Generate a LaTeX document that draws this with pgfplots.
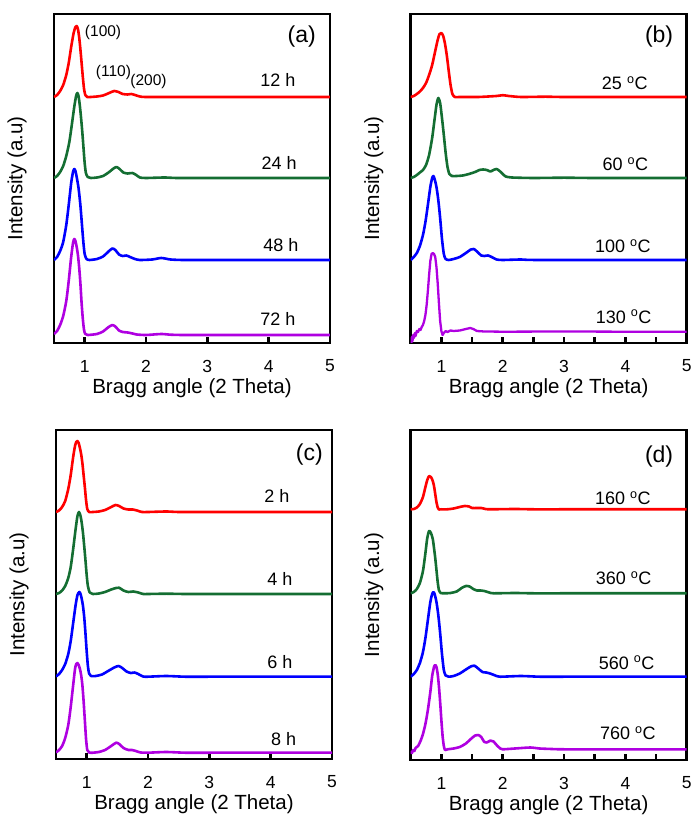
\documentclass[border=0pt]{standalone}
\usepackage{pgfplots}
\pgfplotsset{compat=1.18}
\usepackage{fontspec}
\setmainfont{Liberation Sans}
\definecolor{cred}{RGB}{255,0,0}
\definecolor{cgreen}{RGB}{20,110,50}
\definecolor{cblue}{RGB}{0,0,255}
\definecolor{cpurple}{RGB}{175,0,225}
\pgfplotsset{
  panel/.style={scale only axis, width=276pt, height=329pt,
    xmin=0.5, xmax=5, ymin=0, ymax=329, ytick=\empty,
    xtick={1,2,3,4,5}, xticklabels={1,2,3,4,5},
    tick align=inside, xtick pos=bottom,
    major tick length=6pt, minor tick length=6pt,
    tick style={black, line width=2.5pt},
    axis line style={line width=2.5pt},
    xticklabel style={font=\fontsize{17.5}{20}\selectfont, anchor=center, yshift=-23pt},
    xlabel={Bragg angle (2 Theta)}, ylabel={Intensity (a.u)},
    every axis x label/.style={at={(axis description cs:0.5,-0.137)},anchor=center,font=\fontsize{20.5}{24}\selectfont},
    every axis y label/.style={at={(axis description cs:-0.134,0.5)},rotate=90,anchor=center,font=\fontsize{20.5}{24}\selectfont},
    anchor=south west},
  crv/.style={no marks, line width=2.6pt, line join=round, smooth, tension=0.4},
}
\tikzset{
  lab/.style={font=\fontsize{18}{20}\selectfont, anchor=center},
  plab/.style={font=\fontsize{23}{26}\selectfont, anchor=center},
  ann/.style={font=\fontsize{15.5}{18}\selectfont, anchor=center},
}
\begin{document}
\begin{tikzpicture}
\useasboundingbox (0,0) rectangle (700pt,825pt);
% ---------------- (a)
\begin{axis}[panel, at={(54pt,482pt)}]
\addplot[crv, cred] coordinates {(0.50,246)(0.55,248)(0.60,252)(0.65,258)(0.70,268)(0.74,280)(0.78,296)(0.82,310)(0.85,316)(0.87,317)(0.89,314)(0.91,306)(0.93,294)(0.95,280)(0.97,266)(0.99,254)(1.01,248)(1.04,246)(1.10,246)(1.2,246.5)(1.3,247.5)(1.4,250)(1.48,252)(1.55,251)(1.62,249)(1.7,248.5)(1.76,249)(1.82,248)(1.9,246.5)(2.0,246)(2.5,246)(3,246)(3.5,246)(4,246)(4.5,246)(5,246)};
\addplot[crv, cgreen] coordinates {(0.50,165)(0.55,167)(0.60,171)(0.65,177)(0.70,187)(0.75,201)(0.79,218)(0.83,236)(0.86,247)(0.88,250)(0.90,247)(0.92,238)(0.94,226)(0.96,212)(0.98,196)(1.00,180)(1.02,170)(1.05,166)(1.1,165)(1.2,165.5)(1.3,167)(1.4,171)(1.47,174.5)(1.52,176)(1.57,174)(1.63,170.5)(1.7,169.5)(1.78,170)(1.84,168)(1.9,165.5)(2.0,165)(2.3,165.5)(2.5,165)(3,165)(4,165)(5,165)};
\addplot[crv, cblue] coordinates {(0.50,83)(0.55,86)(0.60,92)(0.65,101)(0.70,118)(0.74,138)(0.78,160)(0.81,171)(0.83,174)(0.85,172)(0.87,166)(0.90,155)(0.93,138)(0.96,115)(0.98,100)(1.00,89)(1.03,84)(1.08,83)(1.2,84)(1.3,86.5)(1.38,91)(1.45,94.5)(1.5,93)(1.56,88.5)(1.62,87)(1.68,87.5)(1.74,86)(1.82,84)(1.9,83)(2.1,83.5)(2.25,85)(2.4,83.5)(2.6,83)(3,83)(4,83)(5,83)};
\addplot[crv, cpurple] coordinates {(0.50,9)(0.55,12)(0.60,18)(0.65,27)(0.70,42)(0.74,62)(0.78,86)(0.81,100)(0.83,104)(0.85,102)(0.87,96)(0.89,88)(0.91,76)(0.93,60)(0.95,40)(0.97,24)(0.99,13)(1.01,9)(1.05,8)(1.2,9)(1.3,11.5)(1.38,15.5)(1.45,18)(1.5,16.5)(1.56,12.5)(1.62,11)(1.7,10.5)(1.78,9.5)(1.85,8.5)(2.0,8)(2.25,9)(2.4,8.3)(2.6,8)(3,8)(4,8)(5,8)};
\node[lab] at (axis cs:4.15,263) {12 h};
\node[lab] at (axis cs:4.17,180) {24 h};
\node[lab] at (axis cs:4.20,98) {48 h};
\node[lab] at (axis cs:4.15,24) {72 h};
\node[plab] at (axis cs:4.54,306) {(a)};
\node[ann] at (axis cs:1.30,310.7) {(100)};
\node[ann] at (axis cs:1.47,271) {(110)};
\node[ann] at (axis cs:2.04,262) {(200)};
\end{axis}
% ---------------- (b)
\begin{axis}[panel, at={(410.7pt,482pt)}, minor xtick={1.5,2.5,3.5,4.5}]
\addplot[crv, cred] coordinates {(0.50,246)(0.55,247)(0.60,249)(0.65,251.5)(0.70,255)(0.75,260)(0.80,268)(0.85,278)(0.90,292)(0.94,303)(0.97,309)(1.00,310)(1.03,307)(1.06,299)(1.09,287)(1.12,272)(1.15,258)(1.18,249)(1.22,246)(1.3,246)(1.6,246)(1.9,247)(2.0,247.8)(2.1,247)(2.3,246)(2.7,246.3)(3,246)(4,246)(5,246)};
\addplot[crv, cgreen] coordinates {(0.50,165)(0.55,166)(0.60,168)(0.65,170.5)(0.70,173)(0.75,178)(0.80,188)(0.85,205)(0.89,224)(0.92,238)(0.95,245)(0.98,240)(1.01,225)(1.04,208)(1.07,190)(1.10,176)(1.13,169)(1.17,167)(1.25,167)(1.35,167.5)(1.45,169)(1.55,171)(1.62,173)(1.68,173.5)(1.74,173)(1.8,171.5)(1.85,173)(1.9,174)(1.95,172)(2.0,169)(2.05,166.5)(2.15,165.5)(2.5,165)(3,165.3)(3.5,165)(5,165)};
\addplot[crv, cblue] coordinates {(0.50,83)(0.55,86)(0.60,90)(0.65,97)(0.70,108)(0.74,121)(0.78,138)(0.82,156)(0.85,165)(0.87,167)(0.89,164)(0.92,156)(0.95,143)(0.98,125)(1.01,104)(1.04,89)(1.07,84)(1.12,83)(1.2,84)(1.3,86)(1.4,90)(1.48,93.5)(1.53,94)(1.58,91.5)(1.65,87.5)(1.7,87)(1.76,87.5)(1.82,86)(1.9,83.5)(2.0,83)(2.3,83.5)(2.6,83)(5,83)};
\addplot[no marks, line width=2.3pt, line join=round, cpurple] coordinates {(0.50,4)(0.51,-1)(0.52,6)(0.53,2)(0.54,8)(0.55,5)(0.57,10)(0.58,7)(0.60,12)(0.62,11)(0.64,14)(0.66,13)(0.68,16)(0.70,18)(0.72,22)(0.74,28)(0.76,38)(0.78,52)(0.80,68)(0.82,82)(0.84,89)(0.86,90)(0.88,89)(0.90,86)(0.92,76)(0.94,60)(0.96,40)(0.98,22)(1.00,12)(1.02,8)(1.04,10)(1.07,12)(1.1,11)(1.15,12.5)(1.2,12)(1.3,12.5)(1.4,14)(1.47,15)(1.52,14)(1.58,12)(1.7,11.5)(2,11.3)(3,11.5)(4,11.3)(5,11.3)};
\node[lab] at (axis cs:3.99,259.7) {25 \textsuperscript{o}C};
\node[lab] at (axis cs:4.00,179) {60 \textsuperscript{o}C};
\node[lab] at (axis cs:3.96,97) {100 \textsuperscript{o}C};
\node[lab] at (axis cs:3.97,26.3) {130 \textsuperscript{o}C};
\node[plab] at (axis cs:4.55,306.3) {(b)};
\end{axis}
% ---------------- (c)
\begin{axis}[panel, at={(56pt,66pt)}]
\addplot[crv, cred] coordinates {(0.50,247)(0.55,248.5)(0.60,252)(0.65,258)(0.70,270)(0.74,284)(0.78,302)(0.81,313)(0.83,317)(0.85,318)(0.87,316)(0.89,311)(0.91,305)(0.93,296)(0.95,284)(0.97,272)(0.99,259)(1.01,250)(1.04,247)(1.1,247)(1.2,247.5)(1.3,249)(1.4,252)(1.47,254)(1.53,253)(1.6,250.5)(1.68,249.5)(1.75,249.5)(1.82,248.5)(1.9,247)(2.0,247)(2.3,247.5)(2.5,247)(3,247)(4,247)(5,247)};
\addplot[crv, cgreen] coordinates {(0.50,165)(0.55,166)(0.60,168.5)(0.65,173)(0.70,181)(0.74,192)(0.78,210)(0.82,230)(0.85,243)(0.875,247)(0.90,243)(0.92,236)(0.94,226)(0.96,213)(0.98,199)(1.00,184)(1.02,173)(1.05,166.5)(1.1,165)(1.2,165.5)(1.3,167)(1.4,169.5)(1.48,171)(1.53,171.3)(1.6,168.5)(1.68,167)(1.76,167.5)(1.84,166.5)(1.92,165)(2.0,165)(2.3,165.3)(2.6,165)(3,165)(4,165)(5,165)};
\addplot[crv, cblue] coordinates {(0.50,82.5)(0.55,85)(0.60,89)(0.65,95)(0.70,105)(0.74,118)(0.78,136)(0.82,154)(0.85,164)(0.88,167)(0.90,165)(0.92,160)(0.94,153)(0.96,142)(0.98,126)(1.00,108)(1.02,93)(1.04,85.5)(1.07,83)(1.15,83)(1.25,84.5)(1.35,88)(1.45,91.5)(1.52,93)(1.58,91)(1.65,87.5)(1.72,86)(1.78,86.5)(1.84,85)(1.92,82.5)(2.0,82.3)(2.3,83)(2.6,82.3)(3,82.3)(4,82.3)(5,82.3)};
\addplot[crv, cpurple] coordinates {(0.50,6.5)(0.55,9)(0.60,13)(0.65,21)(0.70,34)(0.74,52)(0.78,74)(0.81,90)(0.83,95)(0.85,96)(0.87,94)(0.89,90)(0.91,84)(0.93,74)(0.95,58)(0.97,39)(0.99,20)(1.01,9)(1.04,6.5)(1.1,6.3)(1.2,7)(1.3,9)(1.4,13)(1.48,16.3)(1.53,15)(1.6,11)(1.68,9)(1.74,9)(1.8,8)(1.88,6.5)(2.0,6.3)(2.3,7)(2.6,6.3)(3,6.3)(4,6.3)(5,6.3)};
\node[lab] at (axis cs:4.10,263) {2 h};
\node[lab] at (axis cs:4.15,180.3) {4 h};
\node[lab] at (axis cs:4.15,97.3) {6 h};
\node[lab] at (axis cs:4.21,20) {8 h};
\node[plab] at (axis cs:4.63,304) {(c)};
\end{axis}
% ---------------- (d)
\begin{axis}[panel, at={(410.7pt,65pt)}, height=330pt, ymax=330, minor xtick={1.5,2.5,3.5,4.5}]
\addplot[crv, cred] coordinates {(0.50,250.7)(0.55,251)(0.60,252.5)(0.65,256)(0.70,263)(0.74,273)(0.77,280)(0.80,284)(0.83,283)(0.86,279)(0.88,274)(0.90,266)(0.92,258)(0.94,252.5)(0.96,250.5)(1.0,250.7)(1.1,250.7)(1.2,251.5)(1.3,253)(1.38,254)(1.45,253.5)(1.5,252)(1.58,252)(1.65,252)(1.72,251)(1.8,250.7)(2.2,251)(2.5,250.7)(3,250.7)(4,250.7)(5,250.7)};
\addplot[crv, cgreen] coordinates {(0.50,166.7)(0.55,168)(0.60,171)(0.65,177)(0.70,189)(0.74,207)(0.77,222)(0.80,229)(0.83,227)(0.86,221)(0.88,212)(0.90,202)(0.92,190)(0.94,178)(0.96,170)(0.99,167)(1.05,166.7)(1.15,167)(1.25,168.5)(1.33,172)(1.40,174)(1.46,173.5)(1.52,171)(1.58,169.5)(1.64,169.5)(1.7,169)(1.78,167.5)(1.85,166.7)(2.2,167)(2.5,166.7)(3,166.7)(4,166.7)(5,166.7)};
\addplot[crv, cblue] coordinates {(0.50,83.3)(0.55,86)(0.60,90)(0.65,97)(0.70,108)(0.74,122)(0.78,140)(0.82,158)(0.85,166)(0.87,168)(0.89,166)(0.92,158)(0.95,145)(0.98,127)(1.01,106)(1.04,90)(1.07,84.5)(1.12,83.3)(1.2,84)(1.3,86.5)(1.4,90.5)(1.48,93.5)(1.54,94.3)(1.6,91.5)(1.67,88)(1.73,87.5)(1.79,86.6)(1.86,85)(1.95,83.3)(2.3,84)(2.6,83.3)(3,83.3)(4,83.3)(5,83.3)};
\addplot[crv, cpurple] coordinates {(0.50,9)(0.52,7)(0.54,10)(0.56,9)(0.58,12)(0.62,14)(0.66,19)(0.70,26)(0.74,36)(0.78,50)(0.82,68)(0.85,84)(0.88,93)(0.90,95)(0.92,93)(0.94,86)(0.96,74)(0.98,58)(1.00,40)(1.02,24)(1.04,14)(1.06,10)(1.1,10.7)(1.2,11.5)(1.3,13)(1.4,16.5)(1.48,21)(1.55,24.5)(1.6,25)(1.65,23)(1.70,18)(1.74,17.5)(1.8,19.4)(1.85,18.5)(1.9,15)(1.96,11.5)(2.0,10.7)(2.2,11.5)(2.45,12.5)(2.6,11.5)(2.8,11)(3,10.7)(4,10.7)(5,10.7)};
\node[lab] at (axis cs:3.96,261.7) {160 \textsuperscript{o}C};
\node[lab] at (axis cs:3.97,181.7) {360 \textsuperscript{o}C};
\node[lab] at (axis cs:4.02,97.3) {560 \textsuperscript{o}C};
\node[lab] at (axis cs:4.04,26.7) {760 \textsuperscript{o}C};
\node[plab] at (axis cs:4.55,303.3) {(d)};
\end{axis}
\end{tikzpicture}
\end{document}
